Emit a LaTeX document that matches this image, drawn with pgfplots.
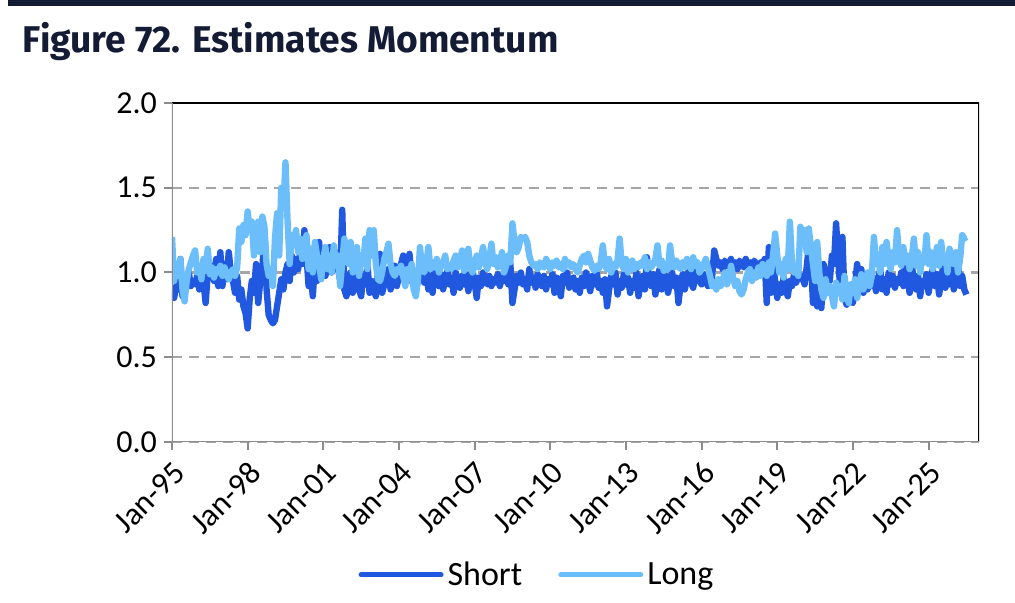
\documentclass[border=0pt]{standalone}
\usepackage{fontspec}
\setmainfont{Carlito}
\newfontfamily\titlefont{Fira Sans}
\usepackage{pgfplots}
\pgfplotsset{compat=1.18}
\usepackage{pgfplotstable}
\definecolor{navy}{HTML}{141B34}
\definecolor{shortc}{HTML}{2058E0}
\definecolor{longc}{HTML}{6CBEFA}
\definecolor{axgray}{HTML}{8C8C8C}
\definecolor{gridgray}{HTML}{A6A6A6}

\pgfplotstableread[header=false,row sep=\\]{
0.88\\ 0.85\\ 0.92\\ 0.90\\ 1.08\\ 0.86\\ 0.92\\ 0.96\\ 1.00\\ 0.92\\ 0.95\\ 0.93\\
0.98\\ 0.90\\ 1.02\\ 0.94\\ 0.82\\ 0.99\\ 1.00\\ 1.04\\ 0.95\\ 1.08\\ 0.92\\ 1.12\\
0.92\\ 1.05\\ 0.96\\ 1.12\\ 1.00\\ 0.95\\ 0.88\\ 0.98\\ 0.84\\ 0.90\\ 0.80\\ 0.76\\
0.67\\ 0.85\\ 0.95\\ 0.88\\ 1.05\\ 0.82\\ 0.95\\ 1.02\\ 1.24\\ 0.90\\ 0.75\\ 0.72\\
0.70\\ 0.72\\ 0.80\\ 0.88\\ 0.96\\ 0.90\\ 1.00\\ 1.05\\ 0.95\\ 1.10\\ 1.00\\ 1.08\\
1.02\\ 1.12\\ 1.05\\ 1.25\\ 1.10\\ 0.92\\ 1.00\\ 0.86\\ 1.05\\ 0.95\\ 1.18\\ 1.02\\
1.10\\ 0.98\\ 1.05\\ 1.15\\ 1.00\\ 1.08\\ 1.12\\ 1.02\\ 0.96\\ 1.37\\ 0.90\\ 0.86\\
0.92\\ 1.00\\ 0.88\\ 0.95\\ 1.02\\ 0.90\\ 0.86\\ 0.98\\ 0.93\\ 1.05\\ 0.88\\ 0.95\\
0.90\\ 0.86\\ 1.00\\ 1.11\\ 0.88\\ 0.93\\ 0.97\\ 1.02\\ 0.90\\ 0.95\\ 1.04\\ 0.92\\
0.98\\ 1.05\\ 1.10\\ 0.95\\ 1.03\\ 1.11\\ 0.96\\ 0.92\\ 1.00\\ 0.94\\ 0.98\\ 1.06\\
0.94\\ 1.00\\ 0.90\\ 0.98\\ 0.88\\ 1.02\\ 0.95\\ 0.92\\ 0.99\\ 0.90\\ 0.96\\ 1.01\\
0.93\\ 0.97\\ 0.88\\ 1.00\\ 0.95\\ 0.91\\ 0.98\\ 0.93\\ 0.99\\ 0.89\\ 0.96\\ 1.01\\
0.94\\ 0.85\\ 0.97\\ 0.92\\ 1.00\\ 0.95\\ 0.93\\ 0.98\\ 0.92\\ 0.96\\ 0.94\\ 0.99\\
0.92\\ 0.97\\ 0.95\\ 1.01\\ 0.93\\ 1.05\\ 0.82\\ 0.90\\ 0.98\\ 0.94\\ 1.00\\ 0.93\\
0.96\\ 0.90\\ 1.02\\ 0.94\\ 0.97\\ 0.91\\ 0.99\\ 0.95\\ 0.92\\ 0.98\\ 0.90\\ 0.96\\
0.93\\ 0.99\\ 0.88\\ 0.97\\ 0.92\\ 0.86\\ 0.98\\ 0.94\\ 1.00\\ 0.91\\ 0.95\\ 0.97\\
0.90\\ 0.95\\ 0.88\\ 0.97\\ 0.92\\ 1.00\\ 0.94\\ 0.89\\ 0.98\\ 0.93\\ 1.02\\ 0.91\\
0.95\\ 0.88\\ 0.96\\ 0.80\\ 0.90\\ 0.98\\ 0.93\\ 1.00\\ 0.87\\ 0.95\\ 0.91\\ 0.99\\
0.93\\ 0.97\\ 0.88\\ 0.95\\ 0.91\\ 1.00\\ 0.86\\ 0.94\\ 0.98\\ 0.90\\ 1.09\\ 0.95\\
0.92\\ 0.99\\ 0.87\\ 0.96\\ 1.02\\ 0.90\\ 0.95\\ 0.98\\ 0.88\\ 0.94\\ 1.00\\ 0.92\\
0.97\\ 0.82\\ 0.93\\ 0.99\\ 0.90\\ 0.96\\ 1.02\\ 0.94\\ 0.91\\ 0.98\\ 1.03\\ 0.95\\
0.93\\ 0.99\\ 0.96\\ 0.92\\ 1.00\\ 0.97\\ 1.13\\ 1.08\\ 1.04\\ 1.06\\ 1.02\\ 1.07\\
1.05\\ 1.03\\ 1.08\\ 1.04\\ 1.06\\ 1.02\\ 1.07\\ 1.05\\ 1.03\\ 1.08\\ 1.04\\ 1.06\\
1.02\\ 1.07\\ 1.05\\ 1.03\\ 1.06\\ 1.04\\ 1.08\\ 0.82\\ 1.15\\ 0.88\\ 1.05\\ 0.95\\
0.85\\ 0.93\\ 0.88\\ 0.97\\ 0.90\\ 0.86\\ 0.95\\ 0.92\\ 0.99\\ 0.94\\ 1.00\\ 0.96\\
0.98\\ 0.93\\ 1.03\\ 1.15\\ 1.08\\ 0.82\\ 0.92\\ 0.80\\ 0.85\\ 0.79\\ 1.05\\ 1.00\\
1.00\\ 0.95\\ 1.10\\ 1.05\\ 1.29\\ 1.08\\ 0.90\\ 1.21\\ 0.85\\ 0.81\\ 0.88\\ 0.83\\
0.82\\ 0.92\\ 1.05\\ 0.96\\ 1.02\\ 0.88\\ 0.95\\ 0.90\\ 1.00\\ 0.92\\ 0.97\\ 0.89\\
0.95\\ 1.02\\ 0.90\\ 0.96\\ 0.88\\ 1.00\\ 0.93\\ 0.98\\ 0.91\\ 0.96\\ 0.94\\ 1.00\\
0.92\\ 1.08\\ 0.96\\ 0.88\\ 1.05\\ 0.94\\ 0.90\\ 0.98\\ 0.86\\ 0.95\\ 0.92\\ 0.99\\
0.88\\ 0.96\\ 1.02\\ 0.92\\ 0.99\\ 0.87\\ 0.95\\ 1.05\\ 0.91\\ 0.97\\ 0.93\\ 1.02\\
0.90\\ 0.96\\ 1.06\\ 0.92\\ 0.98\\ 0.90\\ 0.87\\
}\shortdata

\pgfplotstableread[header=false,row sep=\\]{
1.21\\ 0.95\\ 1.05\\ 0.98\\ 1.08\\ 0.90\\ 0.83\\ 0.95\\ 1.02\\ 1.06\\ 1.10\\ 1.13\\
1.00\\ 1.04\\ 0.96\\ 1.08\\ 1.01\\ 1.14\\ 0.99\\ 1.03\\ 0.97\\ 1.02\\ 1.00\\ 1.04\\
0.98\\ 1.03\\ 0.99\\ 0.96\\ 1.00\\ 1.02\\ 0.98\\ 1.03\\ 1.26\\ 1.18\\ 1.28\\ 1.22\\
1.36\\ 1.25\\ 1.30\\ 1.10\\ 1.22\\ 1.30\\ 1.12\\ 1.33\\ 1.27\\ 1.05\\ 0.98\\ 1.02\\
0.92\\ 1.20\\ 1.35\\ 1.10\\ 1.50\\ 1.38\\ 1.65\\ 1.30\\ 1.05\\ 1.22\\ 1.18\\ 1.25\\
1.12\\ 1.20\\ 1.08\\ 1.15\\ 1.22\\ 1.02\\ 1.14\\ 1.00\\ 1.18\\ 1.10\\ 1.05\\ 0.96\\
1.08\\ 1.15\\ 1.02\\ 1.10\\ 1.00\\ 1.16\\ 1.05\\ 1.10\\ 0.92\\ 1.06\\ 1.20\\ 1.12\\
1.05\\ 1.18\\ 1.00\\ 1.12\\ 1.15\\ 0.98\\ 1.10\\ 1.05\\ 1.20\\ 1.02\\ 1.25\\ 1.10\\
1.25\\ 1.05\\ 0.96\\ 0.95\\ 1.00\\ 1.08\\ 1.12\\ 1.17\\ 1.05\\ 1.00\\ 0.98\\ 1.02\\
1.00\\ 1.04\\ 0.98\\ 0.92\\ 1.02\\ 0.96\\ 1.05\\ 0.90\\ 0.86\\ 0.95\\ 1.15\\ 1.02\\
1.00\\ 1.05\\ 1.15\\ 1.02\\ 1.06\\ 1.03\\ 1.08\\ 1.00\\ 1.04\\ 1.06\\ 1.10\\ 1.02\\
1.04\\ 1.02\\ 1.07\\ 1.10\\ 1.03\\ 1.06\\ 1.13\\ 1.01\\ 1.04\\ 1.14\\ 1.03\\ 1.00\\
1.05\\ 1.10\\ 1.03\\ 1.08\\ 1.15\\ 1.06\\ 1.02\\ 1.08\\ 1.17\\ 1.05\\ 1.09\\ 1.03\\
1.06\\ 1.12\\ 1.00\\ 1.04\\ 1.10\\ 1.06\\ 1.29\\ 1.18\\ 1.12\\ 1.15\\ 1.21\\ 1.20\\
1.21\\ 1.18\\ 1.10\\ 1.06\\ 1.04\\ 1.05\\ 1.02\\ 1.06\\ 1.04\\ 1.03\\ 1.08\\ 1.05\\
1.02\\ 1.06\\ 1.04\\ 1.07\\ 1.03\\ 1.05\\ 1.02\\ 1.08\\ 1.04\\ 1.06\\ 1.03\\ 1.05\\
1.02\\ 1.00\\ 1.04\\ 1.08\\ 1.10\\ 1.06\\ 1.11\\ 1.07\\ 1.03\\ 1.01\\ 1.04\\ 1.02\\
1.06\\ 1.16\\ 1.04\\ 1.02\\ 1.08\\ 1.00\\ 1.05\\ 1.03\\ 1.07\\ 1.20\\ 1.05\\ 1.02\\
1.08\\ 1.00\\ 1.04\\ 1.07\\ 1.02\\ 1.05\\ 1.03\\ 1.06\\ 1.04\\ 1.09\\ 1.02\\ 1.06\\
1.03\\ 1.05\\ 1.08\\ 1.16\\ 1.04\\ 1.07\\ 1.01\\ 1.05\\ 1.02\\ 1.16\\ 1.06\\ 1.03\\
1.07\\ 1.04\\ 1.02\\ 1.06\\ 1.03\\ 1.08\\ 1.05\\ 1.02\\ 1.09\\ 1.04\\ 1.06\\ 1.00\\
1.02\\ 1.05\\ 1.08\\ 1.03\\ 0.98\\ 0.92\\ 0.94\\ 0.90\\ 0.96\\ 0.92\\ 0.95\\ 1.00\\
0.93\\ 0.96\\ 1.04\\ 0.97\\ 0.92\\ 0.95\\ 0.89\\ 0.87\\ 0.90\\ 0.96\\ 1.00\\ 1.02\\
0.95\\ 1.00\\ 0.97\\ 1.03\\ 0.98\\ 1.05\\ 1.02\\ 0.98\\ 1.06\\ 1.00\\ 1.10\\ 1.23\\
1.10\\ 1.00\\ 1.05\\ 0.97\\ 1.08\\ 1.02\\ 1.30\\ 1.06\\ 1.00\\ 1.04\\ 0.98\\ 1.27\\
1.22\\ 1.25\\ 1.12\\ 1.26\\ 1.15\\ 1.05\\ 0.95\\ 1.18\\ 1.00\\ 0.90\\ 0.85\\ 0.96\\
0.88\\ 0.92\\ 0.86\\ 0.80\\ 0.94\\ 0.88\\ 0.92\\ 0.84\\ 0.98\\ 0.87\\ 0.82\\ 0.93\\
0.88\\ 0.96\\ 0.85\\ 0.92\\ 0.99\\ 0.90\\ 0.95\\ 1.00\\ 0.92\\ 0.98\\ 1.21\\ 1.05\\
1.10\\ 1.00\\ 1.15\\ 1.05\\ 1.18\\ 1.08\\ 1.02\\ 1.12\\ 1.06\\ 1.25\\ 1.10\\ 1.04\\
1.15\\ 1.06\\ 1.10\\ 1.02\\ 1.08\\ 1.20\\ 1.04\\ 1.12\\ 1.00\\ 1.09\\ 1.06\\ 1.22\\
1.05\\ 1.12\\ 1.02\\ 1.08\\ 1.15\\ 1.04\\ 1.18\\ 1.06\\ 1.10\\ 1.00\\ 1.14\\ 1.08\\
1.05\\ 1.12\\ 1.00\\ 1.08\\ 1.22\\ 1.20\\ 1.21\\
}\longdata

\begin{document}
\begin{tikzpicture}[x=1pt,y=1pt]
\useasboundingbox (-86,-80.5) rectangle (421.5,221);
\fill[navy] (-82,218) rectangle (421.5,221);
\node[anchor=base west, inner sep=0pt, text=navy, font=\titlefont\bfseries\fontsize{18.6}{22}\selectfont] at (-74.7,194.5) {Figure 72. Estimates Momentum};
\begin{axis}[
  at={(0,0)}, anchor=south west,
  scale only axis, width=403.5pt, height=169.5pt,
  xmin=1995, xmax=2027, ymin=0, ymax=2,
  xtick={1995,1998,2001,2004,2007,2010,2013,2016,2019,2022,2025},
  xticklabels={Jan-95,Jan-98,Jan-01,Jan-04,Jan-07,Jan-10,Jan-13,Jan-16,Jan-19,Jan-22,Jan-25},
  ytick={0,0.5,1,1.5,2},
  /pgf/number format/fixed, /pgf/number format/fixed zerofill,
  /pgf/number format/precision=1, /pgf/number format/assume math mode=true,
  xticklabel style={rotate=45, anchor=north east, font=\fontsize{16}{19}\selectfont},
  yticklabel style={font=\fontsize{16}{19}\selectfont},
  tick label style={text=black},
  xtick pos=bottom, ytick pos=left,
  tick align=outside, major tick length=4pt,
  tick style={axgray, line width=1pt},
  ymajorgrids, grid style={gridgray, line width=1.2pt, dash pattern=on 5pt off 3.5pt},
  axis line style={draw=none},
  legend style={at={(0.4535,-0.392)}, anchor=center, draw=none, fill=none,
    font=\fontsize{17}{20}\selectfont, legend columns=2,
    /tikz/every even column/.append style={column sep=16pt}},
  legend cell align=left,
  legend image code/.code={\draw[#1, line width=2.5pt, line cap=round] (0pt,0pt) -- (40pt,0pt);},
]
\addplot[shortc, line width=3.2pt, line join=round] table[x expr=1995+\coordindex/12, y index=0] {\shortdata};
\addlegendentry{Short}
\addplot[longc, line width=3.2pt, line join=round] table[x expr=1995+\coordindex/12, y index=0] {\longdata};
\addlegendentry{Long}
\draw[black, line width=1pt] (rel axis cs:0,1) -- (rel axis cs:1,1) -- (rel axis cs:1,0);
\draw[axgray, line width=1pt] (rel axis cs:0,1) -- (rel axis cs:0,0) -- (rel axis cs:1,0);
\end{axis}
\end{tikzpicture}
\end{document}
